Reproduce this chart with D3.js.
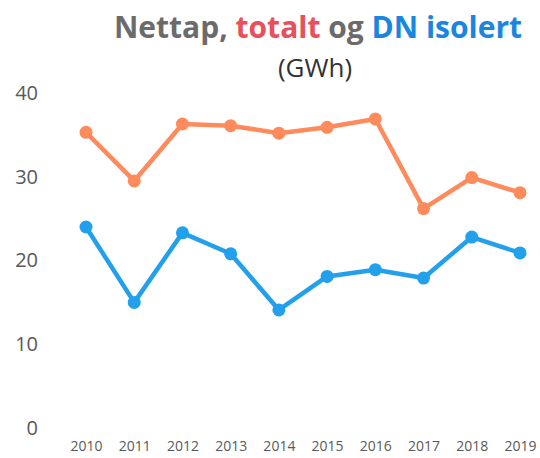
<!DOCTYPE html>
<html>
<head>
<meta charset="utf-8">
<script src="https://cdn.jsdelivr.net/npm/d3@7"></script>
<style>
  body { margin: 0; background: #fff; }
  svg { display: block; }
</style>
</head>
<body>
<svg id="chart" width="540" height="458"></svg>
<script>
// data
const years = [2010, 2011, 2012, 2013, 2014, 2015, 2016, 2017, 2018, 2019];
const totalt = [35.3, 29.5, 36.3, 36.1, 35.2, 35.9, 36.9, 26.2, 29.9, 28.1];
const dnIsolert = [24.0, 15.0, 23.3, 20.8, 14.1, 18.1, 18.9, 17.9, 22.8, 20.9];
const yTicks = [0, 10, 20, 30, 40];

const COLORS = {
  totalt: "#ff8a5c",
  dn: "#22a0ec",
  axis: "#595959",
};

const svg = d3.select("#chart");

const x = d3.scalePoint().domain(years).range([86, 520]);
const y = d3.scaleLinear().domain([0, 40]).range([428, 93]);

// title
const title = svg.append("text")
  .attr("x", 318)
  .attr("y", 38)
  .attr("text-anchor", "middle")
  .attr("font-family", "Open Sans, sans-serif")
  .attr("font-weight", "bold")
  .attr("font-size", 30);
title.append("tspan").attr("fill", "#6b6b6b").text("Nettap, ");
title.append("tspan").attr("fill", "#e8505b").text("totalt");
title.append("tspan").attr("fill", "#6b6b6b").text(" og ");
title.append("tspan").attr("fill", "#1a86e0").text("DN isolert");

svg.append("text")
  .attr("x", 315)
  .attr("y", 77)
  .attr("text-anchor", "middle")
  .attr("font-family", "Open Sans, sans-serif")
  .attr("font-size", 26)
  .attr("fill", "#333")
  .text("(GWh)");

// y axis labels
const yAxis = svg.append("g")
  .attr("transform", "translate(44,0)")
  .call(d3.axisLeft(y).tickValues(yTicks).tickSize(0).tickPadding(6));
yAxis.select(".domain").remove();
yAxis.selectAll("text")
  .attr("font-family", "Open Sans, sans-serif")
  .attr("font-size", 20)
  .attr("fill", COLORS.axis);

// x axis labels
const xAxis = svg.append("g")
  .attr("transform", "translate(0,441)")
  .call(d3.axisBottom(x).tickSize(0).tickPadding(0).tickFormat(d3.format("d")));
xAxis.select(".domain").remove();
xAxis.selectAll("text")
  .attr("font-family", "Open Sans, sans-serif")
  .attr("font-size", 14)
  .attr("fill", COLORS.axis);

const line = d3.line()
  .x((d, i) => x(years[i]))
  .y(d => y(d));

function drawSeries(values, color) {
  svg.append("path")
    .datum(values)
    .attr("d", line)
    .attr("fill", "none")
    .attr("stroke", color)
    .attr("stroke-width", 4.5)
    .attr("stroke-linejoin", "round");

  svg.append("g")
    .selectAll("circle")
    .data(values)
    .enter()
    .append("circle")
    .attr("cx", (d, i) => x(years[i]))
    .attr("cy", d => y(d))
    .attr("r", 6.5)
    .attr("fill", color);
}

drawSeries(totalt, COLORS.totalt);
drawSeries(dnIsolert, COLORS.dn);
</script>
</body>
</html>
